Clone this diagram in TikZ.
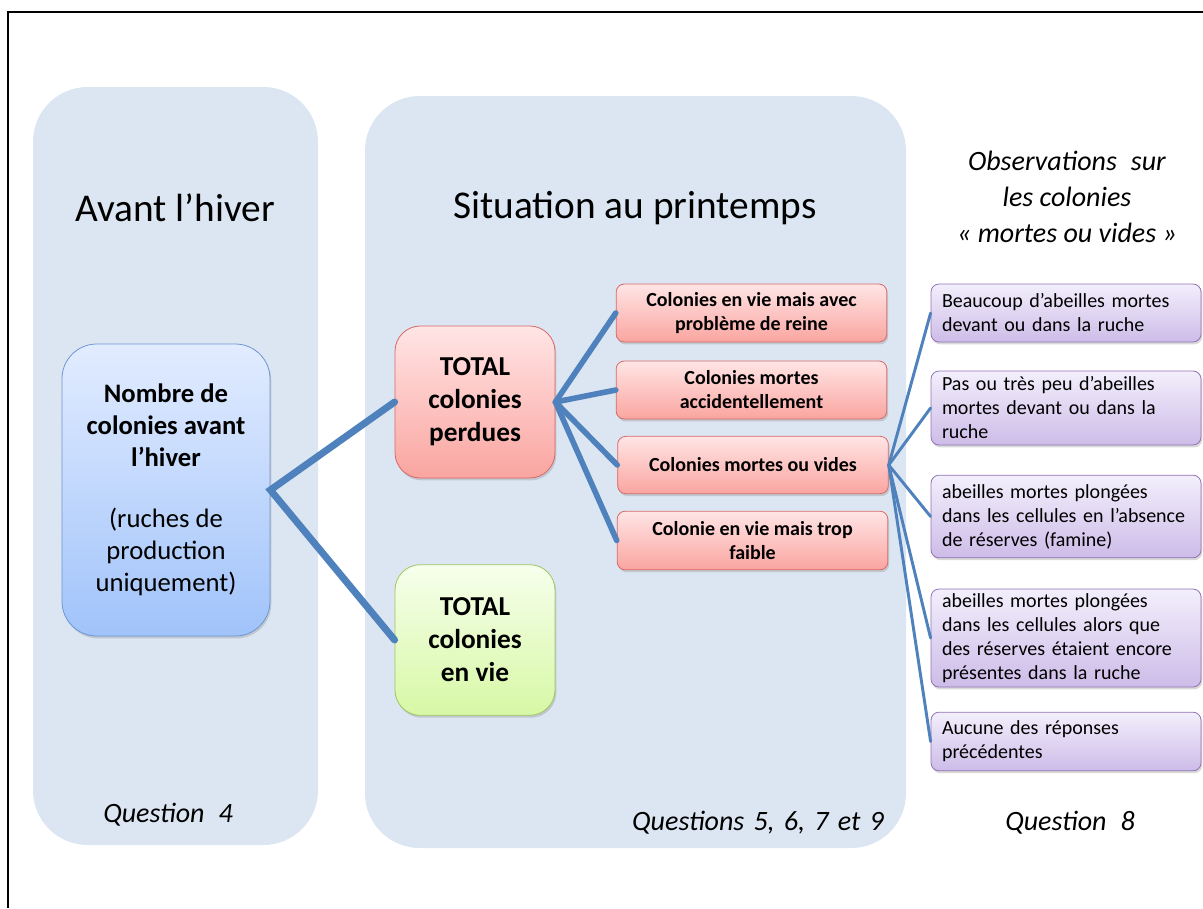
\documentclass[tikz,border=0pt]{standalone}
\usepackage{fontspec}
\setmainfont{Carlito}
\usepackage{tikz}
\usetikzlibrary{shadows}

\begin{document}
\begin{tikzpicture}[x=0.75pt,y=-0.75pt]
            \tikzstyle{every node}=[font=\fontsize{15}{18}\selectfont]
            \tikzstyle{panel}=[fill={rgb, 255:red, 220; green, 230; blue, 242 }, rounded corners=41pt]
            \tikzstyle{boite}=[rounded corners=6pt, line width=0.6pt, drop shadow={shadow xshift=1pt, shadow yshift=-1.8pt, opacity=0.3}]
            \tikzstyle{rouge}=[boite, draw={rgb, 255:red, 215; green, 105; blue, 105 }, top color={rgb, 255:red, 255; green, 229; blue, 229 }, bottom color={rgb, 255:red, 250; green, 165; blue, 160 }]
            \tikzstyle{violet}=[boite, draw={rgb, 255:red, 145; green, 115; blue, 180 }, top color={rgb, 255:red, 243; green, 239; blue, 252 }, bottom color={rgb, 255:red, 205; green, 188; blue, 232 }, align=left, text width=186pt, inner xsep=8.25pt, minimum height=43.5pt]
            \tikzstyle{lien}=[color={rgb, 255:red, 79; green, 129; blue, 189 }, line cap=round]
            \tikzstyle{titre}=[font=\itshape\fontsize{21}{27}\selectfont]
            \useasboundingbox (0,0) rectangle (1203,908);

            %Frame
            \draw [line width=1.5pt] (1203,12) -- (8,12) -- (8,908);
            %Panels
            \fill [panel] (33,87) rectangle (318,845);
            \fill [panel] (365,96) rectangle (906,848);

            % Titles
            \draw (175,208) node [font=\fontsize{29.5}{34}\selectfont] (avant) {Avant l’hiver};
            \draw (635,208) node [font=\fontsize{29.5}{34}\selectfont] (situation) {Situation au printemps};
            \draw (1067,197) node [titre, align=center] (obs) {Observations\hspace{0.5em}sur\\ les colonies\\ « mortes ou vides »};
            \draw (168,815) node [titre] (q4) {Question\hspace{0.5em}4};
            \draw (758,823) node [titre] (q5) {Questions\hspace{0.33em}5,\hspace{0.33em}6,\hspace{0.33em}7\hspace{0.33em}et\hspace{0.33em}9};
            \draw (1070,823) node [titre] (q8) {Question\hspace{0.5em}8};

            % Big nodes
            \draw (166,490) node [boite, rounded corners=26pt, draw={rgb, 255:red, 110; green, 150; blue, 210 }, top color={rgb, 255:red, 226; green, 236; blue, 255 }, bottom color={rgb, 255:red, 160; green, 195; blue, 250 }, minimum width=156pt, minimum height=219pt, align=center, font=\fontsize{20}{24}\selectfont] (nombre) {\textbf{Nombre de}\\ \textbf{colonies avant}\\ \textbf{l’hiver}\\[22pt] (ruches de\\ production\\ uniquement)};
            \draw (475,402) node [rouge, rounded corners=19pt, minimum width=120pt, minimum height=114pt, align=center, font=\bfseries\fontsize{20.5}{24.75}\selectfont] (perdues) {TOTAL\\ colonies\\ perdues};
            \draw (475,640) node [boite, rounded corners=19pt, draw={rgb, 255:red, 160; green, 198; blue, 95 }, top color={rgb, 255:red, 246; green, 255; blue, 236 }, bottom color={rgb, 255:red, 215; green, 248; blue, 165 }, minimum width=120pt, minimum height=113pt, align=center, font=\bfseries\fontsize{20.5}{24.75}\selectfont] (envie) {TOTAL\\ colonies\\ en vie};

            % Red nodes
            \draw (751.5,313) node [rouge, minimum width=203pt, minimum height=43.5pt, align=center, font=\bfseries\fontsize{15}{18}\selectfont] (reine) {Colonies en vie mais avec\\ problème de reine};
            \draw (751.5,390) node [rouge, minimum width=203pt, minimum height=43.5pt, align=center, font=\bfseries\fontsize{15}{18}\selectfont] (accident) {Colonies mortes\\ accidentellement};
            \draw (753,465) node [rouge, minimum width=203pt, minimum height=43pt, align=center, font=\bfseries\fontsize{15}{18}\selectfont] (vides) {Colonies mortes ou vides};
            \draw (752.5,540.5) node [rouge, minimum width=203pt, minimum height=44pt, align=center, font=\bfseries\fontsize{15}{18}\selectfont] (faible) {Colonie en vie mais trop\\ faible};

            % Purple nodes
            \draw (1066,313) node [violet] (beaucoup) {Beaucoup d’abeilles mortes\\ devant ou dans la ruche};
            \draw (1066,408) node [violet, minimum height=55.5pt] (peu) {Pas ou très peu d’abeilles\\ mortes devant ou dans la\\ ruche};
            \draw (1066,516.5) node [violet, minimum height=62pt] (famine) {abeilles mortes plongées\\ dans les cellules en l’absence\\ de réserves (famine)};
            \draw (1066,638) node [violet, minimum height=70.5pt] (reserves) {abeilles mortes plongées\\ dans les cellules alors que\\ des réserves étaient encore\\ présentes dans la ruche};
            \draw (1066,741.5) node [violet, minimum height=44pt] (aucune) {Aucune des réponses\\ précédentes};

            % Links
            \draw [lien, line width=5.25pt] (perdues.west) -- (nombre.east) -- (envie.west);
            \foreach \b in {reine,accident,vides,faible}
                \draw [lien, line width=4.2pt] (perdues.east) -- (\b.west);
            \foreach \b in {beaucoup,peu,famine,reserves,aucune}
                \draw [lien, line width=2.2pt] (vides.east) -- (\b.west);
        \end{tikzpicture}
\end{document}
